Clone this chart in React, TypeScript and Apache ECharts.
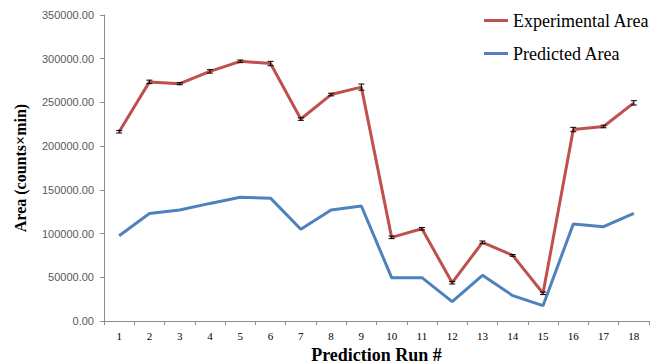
import React, { useEffect, useRef } from "react";
import * as echarts from "echarts";

const categories = ["1","2","3","4","5","6","7","8","9","10","11","12","13","14","15","16","17","18"];
const experimental = [216500, 273500, 271500, 285500, 297000, 294500, 231000, 259000, 267500, 95700, 105500, 43800, 90000, 75000, 31700, 219000, 222500, 249500];
const experimentalErr = [1500, 2000, 1200, 2000, 1500, 2500, 1500, 1500, 3500, 1500, 1500, 1500, 1500, 1000, 1500, 2500, 1500, 2500];
const predicted = [97600, 123000, 127000, 134500, 141500, 140500, 104900, 127000, 131500, 49600, 49600, 22100, 52200, 29000, 17500, 110900, 107900, 123100];
const yTicks = { min: 0, max: 350000, interval: 50000 };

const SERIF = "'Liberation Serif', 'Times New Roman', 'DejaVu Serif', serif";
const SANS = "'Liberation Sans', Arial, sans-serif";

export default function App() {
  const ref = useRef<HTMLDivElement>(null);
  useEffect(() => {
    if (!ref.current) return;
    const chart = echarts.init(ref.current, null, { renderer: "svg" });
    const errData = experimental.map((v, i) => [i, v - experimentalErr[i], v + experimentalErr[i]]);
    chart.setOption({
      animation: false,
      backgroundColor: "#ffffff",
      grid: { left: 104, right: 1, top: 15, bottom: 43, containLabel: false, outerBoundsMode: "none" },
      legend: {
        data: ["Experimental Area", "Predicted Area"],
        orient: "vertical",
        left: 479,
        top: 5,
        icon: "rect",
        itemWidth: 24,
        itemHeight: 3,
        itemGap: 12,
        textStyle: { fontFamily: SERIF, fontSize: 18, color: "#000", lineHeight: 21 },
      },
      xAxis: {
        type: "category",
        data: categories,
        boundaryGap: true,
        name: "Prediction Run #",
        nameLocation: "middle",
        nameGap: 25,
        nameTextStyle: { fontFamily: SERIF, fontWeight: "bold", fontSize: 18, color: "#000" },
        axisLine: { lineStyle: { color: "#8c8c8c", width: 1 } },
        axisTick: { show: true, alignWithLabel: false, length: 4, lineStyle: { color: "#8c8c8c" } },
        axisLabel: { fontFamily: SERIF, fontSize: 11, color: "#000", margin: 9, interval: 0 },
        splitLine: { show: false },
      },
      yAxis: {
        type: "value",
        min: yTicks.min,
        max: yTicks.max,
        interval: yTicks.interval,
        name: "Area (counts×min)",
        nameLocation: "middle",
        nameGap: 76,
        nameTextStyle: { fontFamily: SERIF, fontWeight: "bold", fontSize: 16, color: "#000" },
        axisLine: { show: true, lineStyle: { color: "#8c8c8c", width: 1 } },
        axisTick: { show: true, length: 4, lineStyle: { color: "#8c8c8c" } },
        axisLabel: {
          fontFamily: SANS,
          fontSize: 11,
          color: "#595959",
          margin: 10,
          formatter: (v: number) => v.toFixed(2),
        },
        splitLine: { show: false },
      },
      series: [
        {
          name: "Experimental Area",
          type: "line",
          data: experimental,
          showSymbol: false,
          symbol: "none",
          lineStyle: { color: "#C0504D", width: 3 },
          itemStyle: { color: "#C0504D" },
          z: 3,
        },
        {
          name: "Predicted Area",
          type: "line",
          data: predicted,
          showSymbol: false,
          symbol: "none",
          lineStyle: { color: "#4F81BD", width: 3 },
          itemStyle: { color: "#4F81BD" },
          z: 2,
        },
        {
          name: "err",
          type: "custom",
          data: errData,
          z: 4,
          renderItem: (params: any, api: any) => {
            const x = api.value(0);
            const lo = api.coord([x, api.value(1)]);
            const hi = api.coord([x, api.value(2)]);
            const hw = 3;
            const style = { stroke: "#000", lineWidth: 1 };
            return {
              type: "group",
              children: [
                { type: "line", shape: { x1: hi[0], y1: hi[1], x2: lo[0], y2: lo[1] }, style },
                { type: "line", shape: { x1: hi[0] - hw, y1: hi[1], x2: hi[0] + hw, y2: hi[1] }, style },
                { type: "line", shape: { x1: lo[0] - hw, y1: lo[1], x2: lo[0] + hw, y2: lo[1] }, style },
              ],
            };
          },
        },
      ],
    });
    return () => chart.dispose();
  }, []);
  return <div ref={ref} style={{ width: 650, height: 364, position: "absolute", left: 0, top: 0 }} />;
}
